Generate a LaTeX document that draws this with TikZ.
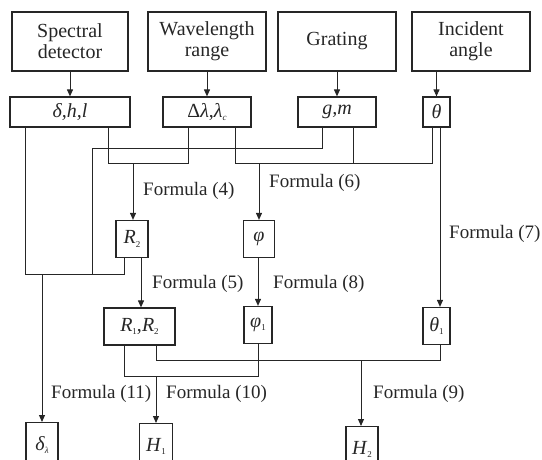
\documentclass[tikz,border=0pt]{standalone}
\usepackage{fontspec}
\setmainfont{Liberation Serif}
\usetikzlibrary{arrows.meta}
\definecolor{ink}{HTML}{262626}
\newcommand\lowidx[1]{\raisebox{-0.35ex}{\fontsize{9}{9}\selectfont #1}}
\begin{document}
\begin{tikzpicture}[x=1pt,y=-1pt,
  every node/.style={text=ink},
  bigbox/.style={draw=ink,line width=1.2pt,minimum width=118pt,minimum height=59pt,inner sep=0pt,align=center,font=\fontsize{20}{21}\selectfont},
  varbox/.style={draw=ink,line width=1.2pt,minimum height=30pt,inner sep=0pt,font=\fontsize{20}{21}\selectfont},
  smallbox/.style={draw=ink,line width=1.2pt,minimum height=37pt,inner sep=0pt,font=\fontsize{20}{21}\selectfont},
  lbl/.style={anchor=west,inner sep=0pt,font=\fontsize{19}{20}\selectfont},
  wire/.style={draw=ink,line width=1pt},
  arr/.style={wire,-{Triangle[length=7pt,width=6pt]}}]
\useasboundingbox (0,0) rectangle (542,459);
% row 1
\node[bigbox,minimum width=116pt] (sd) at (70,41.5) {Spectral\\detector};
\node[bigbox] (wr) at (207,41.5) {Wavelength\\range};
\node[bigbox] (gr) at (337,41.5) {Grating};
\node[bigbox] (ia) at (471,41.5) {Incident\\angle};
% row 2
\node[varbox,minimum width=120pt] (dhl) at (70,112) {\itshape δ,h,l};
\node[varbox,minimum width=88pt] (dl) at (207,112) {Δ\textit{λ},\textit{λ}\lowidx{\textit{c}}};
\node[varbox,minimum width=78pt] (gm) at (337,112) {\itshape g,m};
\node[varbox,minimum width=27pt] (th) at (436.5,112) {\itshape θ};
% row 3
\node[smallbox,minimum width=32pt] (R2) at (132,239) {\textit{R}\lowidx{2}};
\node[smallbox,minimum width=31pt] (phi) at (259,239) {\itshape φ};
% row 4
\node[smallbox,minimum width=71pt] (R1R2) at (139.5,326.5) {\textit{R}\lowidx{1},\textit{R}\lowidx{2}};
\node[smallbox,minimum width=28pt] (phi1) at (258,325) {\textit{φ}\lowidx{1}};
\node[smallbox,minimum width=27pt] (th1) at (436.5,326) {\textit{θ}\lowidx{1}};
% row 5 (cut by the page edge)
\node[smallbox,minimum width=32pt,minimum height=44pt,anchor=north] (dlam) at (42,422) {\raisebox{0pt}[0pt][0pt]{\raisebox{-6pt}{\textit{δ}\lowidx{\textit{λ}}}}};
\node[smallbox,minimum width=33pt,minimum height=44pt,anchor=north] (H1) at (156,423) {\raisebox{0pt}[0pt][0pt]{\raisebox{-6pt}{\textit{H}\lowidx{1}}}};
\node[smallbox,minimum width=32pt,minimum height=44pt,anchor=north] (H2) at (362,426) {\raisebox{0pt}[0pt][0pt]{\raisebox{-6pt}{\textit{H}\lowidx{2}}}};
% junction points
\coordinate (j4) at (133,163);
\coordinate (j6) at (259,163);
\coordinate (j11) at (42,274);
\coordinate (j10) at (156,376);
\coordinate (j9) at (361,360);
% row 1 -> row 2
\draw[arr] (sd) -- (dhl);
\draw[arr] (wr) -- (dl);
\draw[arr] (gr) -- (gm);
\draw[arr] (ia.south -| th) -- (th.north);
% formula (4)
\draw[wire] (dhl.south -| 108,0) -- (108,163) -| (dl.south -| 188,0);
\draw[arr] (j4) -- (R2.north -| j4);
% formula (11) inputs
\draw[wire] (gm.south -| 322,0) |- (92,148) -- (92,274);
\draw[wire] (dhl.south -| 25,0) -- (25,274) -| (R2.south -| 124,0);
\draw[arr] (j11) -- (dlam.north -| j11);
% formula (6)
\draw[wire] (dl.south -| 235,0) -- (235,163) -| (th.south -| 432,0);
\draw[wire] (gm.south -| 353,0) -- (353,163);
\draw[arr] (j6) -- (phi.north -| j6);
% formula (7)
\draw[arr] (th.south -| 440,0) -- (th1.north -| 440,0);
% formula (5), (8)
\draw[arr] (R2.south -| 141,0) -- (R1R2.north -| 141,0);
\draw[arr] (phi.south -| phi1) -- (phi1.north);
% formula (10)
\draw[wire] (R1R2.south -| 124,0) -- (124,376) -| (phi1.south);
\draw[arr] (j10) -- (H1.north -| j10);
% formula (9)
\draw[wire] (R1R2.south -| 156,0) -- (156,360) -| (th1.south -| 440,0);
\draw[arr] (j9) -- (H2.north -| j9);
% labels
\node[lbl] (f4) at (143,191) {Formula (4)};
\node[lbl] (f6) at (269,183) {Formula (6)};
\node[lbl] (f7) at (449,234) {Formula (7)};
\node[lbl] (f5) at (152,284) {Formula (5)};
\node[lbl] (f8) at (273,284) {Formula (8)};
\node[lbl] (f11) at (51,394) {Formula (11)};
\node[lbl] (f10) at (166,394) {Formula (10)};
\node[lbl] (f9) at (373,394) {Formula (9)};
\end{tikzpicture}
\end{document}
